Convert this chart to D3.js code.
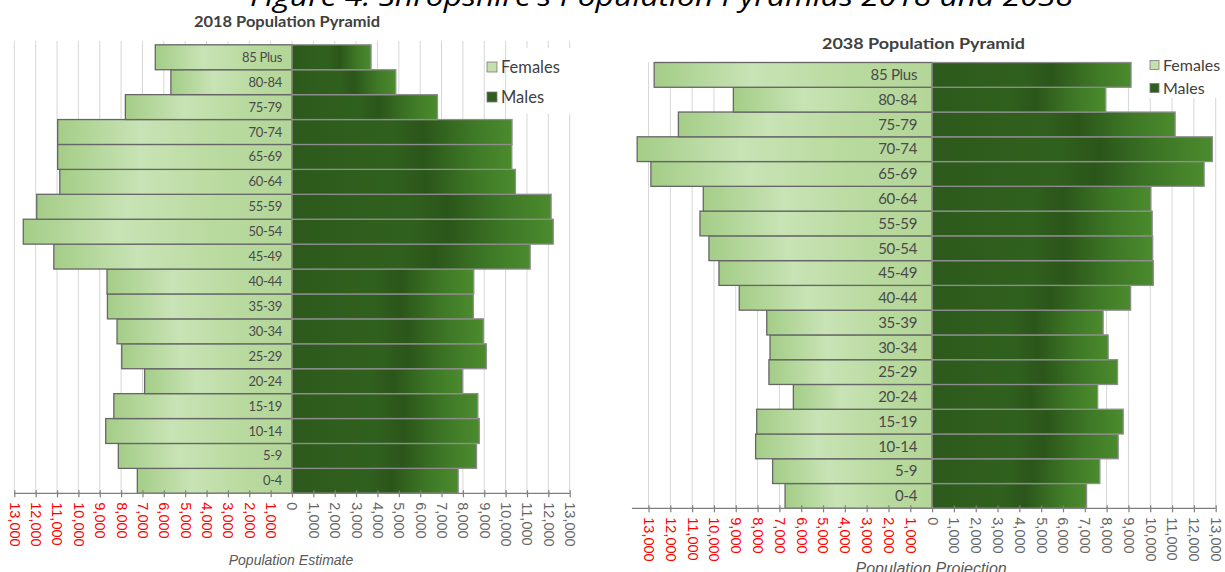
<!DOCTYPE html>
<html>
<head>
<meta charset="utf-8">
<script src="https://cdn.jsdelivr.net/npm/d3@7"></script>
<style>
  html, body { margin: 0; padding: 0; background: #ffffff; }
  svg { display: block; }
</style>
</head>
<body>
<svg id="chart" width="1225" height="572"></svg>
<script>
// ---------------- DATA ----------------
const ageGroups = ["0-4","5-9","10-14","15-19","20-24","25-29","30-34","35-39","40-44",
                   "45-49","50-54","55-59","60-64","65-69","70-74","75-79","80-84","85 Plus"];
const females2018 = [7240, 8130, 8720, 8340, 6900, 7970, 8190, 8640, 8660, 11150, 12580, 11950, 10870, 10970, 10970, 7800, 5670, 6400];
const males2018   = [7780, 8640, 8770, 8700, 7990, 9100, 8960, 8490, 8510, 11150, 12230, 12130, 10460, 10290, 10300, 6810, 4860, 3700];
const females2038 = [6740, 7310, 8090, 8040, 6360, 7480, 7430, 7580, 8840, 9770, 10230, 10640, 10490, 12890, 13520, 11630, 9110, 12740];
const males2038   = [7080, 7690, 8530, 8760, 7590, 8500, 8070, 7840, 9100, 10140, 10110, 10090, 10030, 12470, 12850, 11140, 7950, 9120];
const tickValues = [-13000,-12000,-11000,-10000,-9000,-8000,-7000,-6000,-5000,-4000,-3000,-2000,-1000,
                    0,1000,2000,3000,4000,5000,6000,7000,8000,9000,10000,11000,12000,13000];
const seriesNames = ["Females", "Males"];
const figureTitle = "Figure 4: Shropshire's Population Pyramids 2018 and 2038";
const chartTitles = ["2018 Population Pyramid", "2038 Population Pyramid"];
const axisTitles = ["Population Estimate", "Population Projection"];

// ---------------- DRAW ----------------
const svg = d3.select("#chart");
const defs = svg.append("defs");

const fGrad = defs.append("linearGradient").attr("id", "gradF").attr("x1", 0).attr("x2", 1).attr("y1", 0).attr("y2", 0);
[[0, "#a4cd87"], [0.35, "#c8e3b5"], [0.7, "#b9da9f"], [1, "#b3d698"]].forEach(s =>
  fGrad.append("stop").attr("offset", s[0]).attr("stop-color", s[1]));
const mGrad = defs.append("linearGradient").attr("id", "gradM").attr("x1", 0).attr("x2", 1).attr("y1", 0).attr("y2", 0);
[[0, "#2d5a1c"], [0.45, "#30601e"], [0.6, "#2b561a"], [0.82, "#3e7826"], [1, "#4b8b2d"]].forEach(s =>
  mGrad.append("stop").attr("offset", s[0]).attr("stop-color", s[1]));

// figure title (partly cut off at top, as in the source image)
svg.append("text")
  .attr("x", 250).attr("y", 6)
  .attr("textLength", 823).attr("lengthAdjust", "spacingAndGlyphs")
  .style("font-family", "'Open Sans', sans-serif").style("font-style", "italic")
  .style("font-size", "27px").style("fill", "#000")
  .text(figureTitle);

const panels = [
  { females: females2018, males: males2018, title: chartTitles[0], axisTitle: axisTitles[0],
    xRange: [14.3, 569.7], axisMin: -13000, top: 44.8, bottom: 493.3, gridTop: 41,
    titleX: 194, titleY: 27, titleW: 186, labelSize: 13, labelOffset: 10,
    legend: { box: [512, 48, 64, 66], x: 487, y: [67, 97], size: 16.5, sw: 10 },
    tickFont: 14.5, axisTitleY: 565, axisTitleSize: 14 },
  { females: females2038, males: males2038, title: chartTitles[1], axisTitle: axisTitles[1],
    xRange: [648.5, 1215.7], axisMin: -13760, top: 62.5, bottom: 508.3, gridTop: 62.5,
    titleX: 822, titleY: 49, titleW: 203, labelSize: 15, labelOffset: 15,
    legend: { box: [1145, 50, 80, 48], x: 1150, y: [65, 88], size: 16, sw: 9 },
    tickFont: 14.5, axisTitleY: 574, axisTitleSize: 16 }
];

panels.forEach(p => {
  const x = d3.scaleLinear().domain([-13000, 13000]).range(p.xRange);
  const y = d3.scaleBand().domain(ageGroups.slice().reverse()).range([p.top, p.bottom]).padding(0);
  const g = svg.append("g");

  // gridlines
  g.append("g").selectAll("line").data(tickValues).join("line")
    .attr("x1", d => x(d)).attr("x2", d => x(d))
    .attr("y1", p.gridTop).attr("y2", p.bottom)
    .attr("stroke", "#d6d6d6").attr("stroke-width", 1);

  // legend background (covers gridlines)
  const L = p.legend;
  g.append("rect").attr("x", L.box[0]).attr("y", L.box[1]).attr("width", L.box[2]).attr("height", L.box[3])
    .attr("fill", "#ffffff");

  // title
  g.append("text").attr("x", p.titleX).attr("y", p.titleY)
    .attr("textLength", p.titleW).attr("lengthAdjust", "spacingAndGlyphs")
    .style("font-family", "Lato, sans-serif").style("font-weight", "bold")
    .style("font-size", "16px").style("fill", "#404040")
    .text(p.title);

  // bars
  const rows = ageGroups.map((a, i) => ({ age: a, f: p.females[i], m: p.males[i] }));
  g.append("g").selectAll("rect").data(rows).join("rect")
    .attr("x", d => x(-d.f)).attr("y", d => y(d.age))
    .attr("width", d => x(0) - x(-d.f)).attr("height", y.bandwidth())
    .attr("fill", "url(#gradF)").attr("stroke", "#666666").attr("stroke-width", 1.3);
  g.append("g").selectAll("rect").data(rows).join("rect")
    .attr("x", x(0)).attr("y", d => y(d.age))
    .attr("width", d => x(d.m) - x(0)).attr("height", y.bandwidth())
    .attr("fill", "url(#gradM)").attr("stroke", "#8e8e8e").attr("stroke-width", 1.3);

  // category labels
  g.append("g").selectAll("text").data(rows).join("text")
    .attr("x", x(0) - p.labelOffset).attr("y", d => y(d.age) + y.bandwidth() / 2)
    .attr("dy", "0.35em").attr("text-anchor", "end")
    .style("font-family", "Lato, sans-serif").style("font-size", p.labelSize + "px")
    .style("fill", "#4a4a4a").style("letter-spacing", "-0.3px")
    .text(d => d.age);

  // axis
  const axis = d3.axisBottom(x).tickValues(tickValues)
    .tickFormat(d => d3.format(",")(Math.abs(d))).tickSizeInner(4).tickSizeOuter(0);
  const ax = g.append("g").attr("transform", `translate(0,${p.bottom})`).call(axis);
  ax.select(".domain").remove();
  ax.append("line").attr("x1", x(p.axisMin)).attr("x2", x(13000)).attr("y1", 0).attr("y2", 0)
    .attr("stroke", "#7f7f7f").attr("stroke-width", 1.3);
  ax.selectAll(".tick line").attr("y1", -3).attr("y2", 4).attr("stroke", "#7f7f7f").attr("stroke-width", 1.2);
  ax.selectAll(".tick text")
    .attr("transform", "rotate(90)")
    .attr("x", 9).attr("y", 0).attr("dy", "0.35em")
    .style("text-anchor", "start")
    .style("font-family", "'Liberation Sans', Arial, sans-serif")
    .style("font-size", p.tickFont + "px")
    .style("fill", d => d < 0 ? "#ff0000" : "#666666");

  // axis title
  g.append("text").attr("x", x(0) - 1).attr("y", p.axisTitleY).attr("text-anchor", "middle")
    .style("font-family", "'Liberation Sans', Arial, sans-serif").style("font-style", "italic")
    .style("font-size", p.axisTitleSize + "px").style("fill", "#595959")
    .text(p.axisTitle);

  // legend
  const lg = g.append("g");
  seriesNames.forEach((name, i) => {
    lg.append("rect").attr("x", L.x).attr("y", L.y[i] - L.sw / 2).attr("width", L.sw).attr("height", L.sw)
      .attr("fill", i === 0 ? "#c3e0ae" : "#2f5e1e").attr("stroke", "#7a7a7a").attr("stroke-width", 0.8);
    lg.append("text").attr("x", L.x + L.sw + 4).attr("y", L.y[i]).attr("dy", "0.35em")
      .style("font-family", "Lato, sans-serif").style("font-size", L.size + "px").style("fill", "#404040")
      .text(name);
  });
});
</script>
</body>
</html>
